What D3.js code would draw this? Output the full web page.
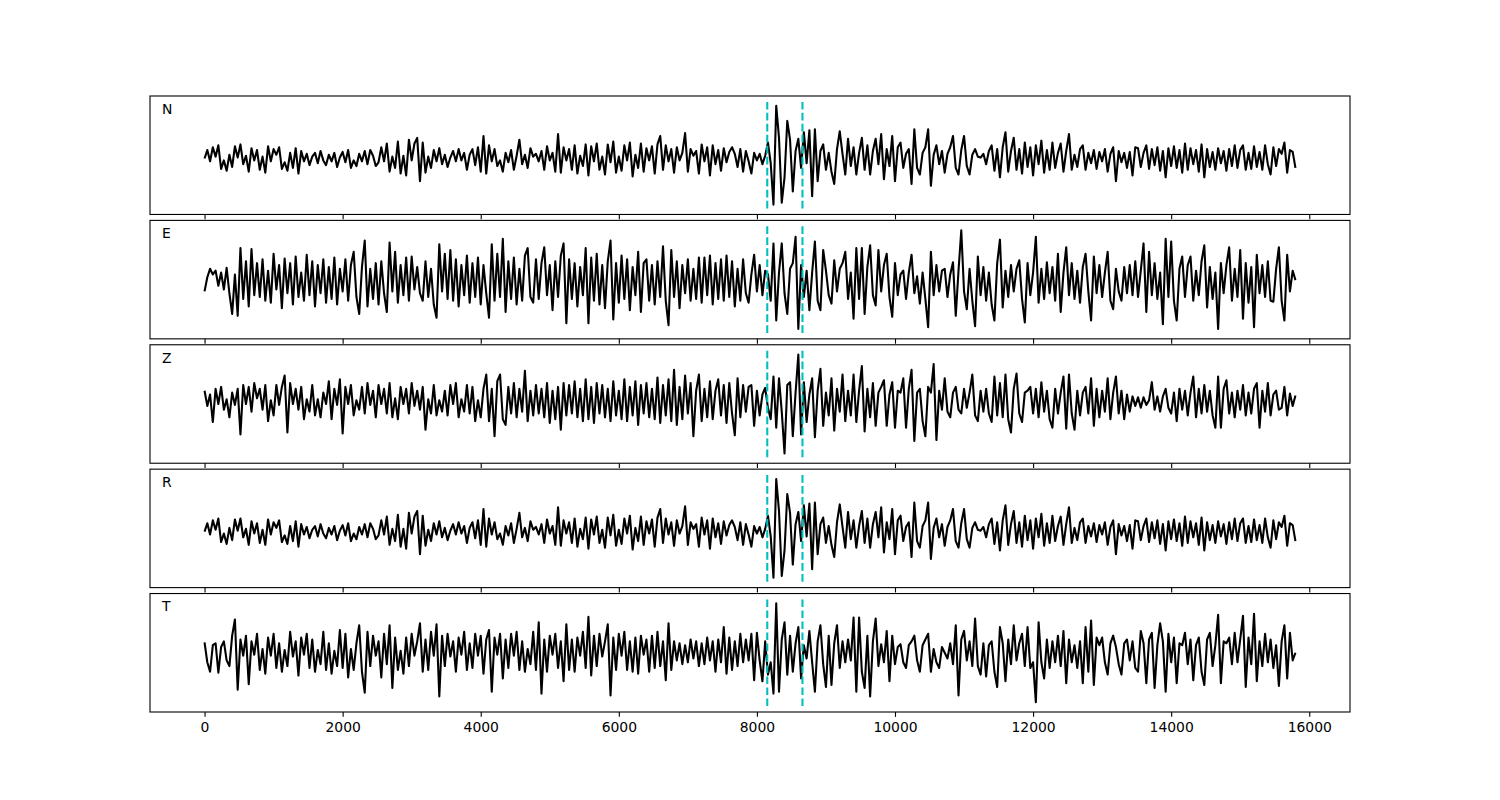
<!DOCTYPE html>
<html>
<head>
<meta charset="utf-8">
<script src="https://cdn.jsdelivr.net/npm/d3@7"></script>
<style>
  body { margin: 0; background: #fff; }
  text { font-family: "DejaVu Sans", sans-serif; }
</style>
</head>
<body>
<div id="chart"></div>
<script>
// sample spacing (x units) between the values below, first value at x = 0
var step = 40;
var channels = ["N", "E", "Z", "R", "T"];
var picks = [8150, 8660];
var xTicks = [0, 2000, 4000, 6000, 8000, 10000, 12000, 14000, 16000];

var nValues = [
  0, 9, -3, 12, 2, 14, -11, -2, -13, 4,
  -9, 13, 1, 15, -6, 3, -14, 11, -2, 9,
  -12, 2, -15, 13, -3, 10, 4, 12, -11, -4,
  -13, 6, -10, 11, -16, 8, -3, 5, -7, 2,
  6, -5, 8, -2, -7, 4, -3, 6, -9, 1,
  7, -4, 9, -10, -2, -8, 5, -3, 8, -6,
  9, 3, -8, -4, 12, -3, 16, -14, 2, -10,
  18, -16, 3, -18, 20, -2, 16, 22, -24, 17,
  -15, 2, -10, 9, -3, 11, -6, 4, -9, 1,
  8, -3, 10, -2, 6, -12, 4, 10, -7, 12,
  -14, 24, -16, 14, -3, 10, -8, -2, -14, 6,
  -4, 9, -12, 3, 20, -6, 4, -10, 11, 2,
  5, -3, 8, -12, 13, -2, 6, -14, 26, -15,
  12, -2, 10, -12, 14, -16, 3, -8, 15, -18,
  13, -3, 16, -12, 2, -17, 15, -4, 18, -15,
  2, -13, 14, -2, 17, -19, 4, -10, 16, -14,
  11, -2, 13, -16, 15, 24, -12, 14, -3, 10,
  -15, 12, -2, 6, 27, -14, 10, 3, 8, -16,
  15, -3, 12, -18, 14, -6, 9, -13, 11, -4,
  7, 12, 5, -9, 10, -14, 8, -3, -16, 6,
  -2, 5, -6, 3, 17, -5, -49, 56, 22, -47,
  -20, 40, 20, -35, 8, 21, -10, 28, -5, 30,
  -40, 31, -24, 8, 15, -12, 6, -14, -27, 10,
  29, 5, -17, 21, -8, 12, -17, 6, 22, -12,
  14, -17, 8, 21, -6, 26, -22, 10, -8, 24,
  -24, 12, 17, -10, 5, 10, -27, 31, -10, -17,
  6, 12, 31, -29, 4, 14, -6, 8, -15, 5,
  12, 24, -10, -17, 9, 24, -8, -17, 4, 10,
  2, 1, 5, -6, 8, 14, -13, 10, -20, 12,
  28, -14, 8, 22, -12, 10, -16, 17, -9, 12,
  -18, 14, -6, 19, -15, 9, -12, 17, -10, 6,
  16, -14, 8, 26, -12, 4, -9, 10, 14, -12,
  6, -5, 9, -11, 7, -3, 10, -14, 5, 12,
  -24, 8, -4, 6, -10, 7, -18, 12, 11, -9,
  6, 14, -11, 10, -7, 12, -13, 8, -20, 11,
  -8, 13, -10, 9, -15, 16, -12, 11, -6, 9,
  -14, 15, -20, 10, -9, 7, -12, 11, -5, 8,
  -13, 10, -8, 14, -10, 9, 14, -12, 6, -11,
  13, -9, 7, -12, 14, -6, -17, 12, -8, 10,
  5, 17, -15, 9, 7, -10
];

var eValues = [
  -10, 5, 14, 8, 12, -4, 10, -8, 15, -12,
  -34, 8, -36, 36, -18, 22, -26, 35, -14, 20,
  -16, 24, -20, 12, -22, 30, -8, 18, -28, 25,
  -12, 20, -24, 27, -16, 10, -20, 29, -14, 22,
  -26, 18, -12, 24, -22, 16, -18, 26, -24, 14,
  -10, 24, -20, 18, 32, -16, -34, 16, 44, -26,
  14, -18, 20, -24, 22, -12, -32, 42, -10, 32,
  -22, 18, -14, 26, -20, 27, -8, 16, -12, -20,
  22, -16, 14, -24, -38, 40, -10, 30, -18, 34,
  -20, 24, -26, 18, -14, 28, -22, 20, -16, 26,
  -24, 18, -12, -38, 40, -20, 30, -16, 46, -32,
  22, -18, 26, -24, 14, -20, 28, 36, -16, -22,
  24, -18, 20, 37, -14, 18, -30, 22, -16, 28,
  41, -44, 24, -18, 20, -26, 16, -14, 36, -44,
  26, -20, 30, -24, 18, -28, 22, 44, -40, 20,
  -22, 28, -18, 24, -30, 16, -14, 32, -32, 20,
  24, -20, 18, -24, 22, -16, 38, -20, -46, 34,
  -16, 22, -28, 18, -12, 24, -20, 14, -18, 26,
  -22, 26, -14, 28, -24, 20, -18, 24, -20, 28,
  -16, 22, -26, 14, -20, 24, -12, -22, 8, 29,
  -10, 18, -14, 12, 8, -20, 41, -41, 10, 41,
  -12, -34, 14, 20, 48, -50, 18, -16, 12, -30,
  10, 43, -20, -30, 34, 12, -14, -23, 23, -10,
  14, 20, 32, -18, 10, -39, 36, -18, 36, -34,
  16, 39, -14, -25, 34, -10, 18, 30, -16, -37,
  20, -14, 8, 12, -18, 10, 29, -12, 6, -23,
  10, -18, -48, 32, -14, 18, -10, 12, 14, -16,
  8, 21, -36, 12, 55, -10, -29, 14, -20, -47,
  27, -14, 16, -20, 10, -24, -41, 20, 45, -27,
  12, -16, 18, -10, 14, 23, -18, -43, 20, -14,
  10, 48, -22, 14, -18, 21, -12, 16, -20, 30,
  -32, 10, 37, -14, 20, -18, 12, -22, 16, 30,
  -10, -41, 27, -12, 18, -16, 10, 32, -20, -29,
  14, -10, -20, 16, -12, 18, -14, 22, -16, 12,
  41, -32, 32, -14, 20, -18, 10, -45, 46, -16,
  43, -20, -41, 14, 27, -16, 18, 27, -20, 12,
  -14, 22, 39, -27, 16, -18, 10, -50, 20, -12,
  18, 37, -20, 14, -16, 34, -39, 20, -22, 16,
  -48, 29, -12, 18, -16, 22, -20, -21, 14, 37,
  -20, -41, 29, -10, 12, 2
];

var zValues = [
  12, -4, 8, -21, 14, -2, 16, -8, 3, -16,
  10, -3, 14, -34, 18, -2, 16, -10, 20, 4,
  14, -8, 18, -20, 2, -14, 18, -3, 16, 28,
  -32, 20, -2, 14, -8, 16, -18, 3, -10, 18,
  -14, 3, -16, 10, -2, 22, -18, 14, -3, 24,
  -33, 16, -2, 18, -14, 2, -8, 16, -12, 20,
  -3, 12, -16, 18, -2, 14, -12, 20, -16, 4,
  -18, 16, -2, 14, -12, 20, -4, 12, -8, 16,
  -29, 3, -12, 18, -14, 2, -10, 12, -14, 18,
  -2, 20, -16, 3, -10, 18, -12, 16, -20, 2,
  -16, 14, 29, -20, 14, -36, 22, 29, -18, -24,
  16, -12, 20, -16, 14, -10, 33, -20, 12, -14,
  18, -12, 14, -16, 20, -22, 12, -18, 16, -29,
  20, -14, 18, -12, 22, -16, 14, -20, 24, -18,
  16, -22, 20, -12, 18, -16, 14, -20, 22, -14,
  12, -18, 24, -20, 16, -14, 22, -24, 18, -12,
  20, -16, 14, -18, 26, -22, 18, -14, 24, -20,
  34, -24, 16, -18, 28, -12, 20, -36, 12, 29,
  -20, 14, -16, 22, -18, 12, 24, -14, 18, -22,
  20, -12, -35, 25, -16, 18, -10, 16, 18, -25,
  12, -14, 8, 15, -6, -18, 27, -27, 25, -10,
  -54, 18, 21, -36, 10, 50, -34, 21, -21, 8,
  25, -37, 12, 35, -25, 10, -14, 25, -30, 14,
  -10, 29, -20, 12, -14, 29, -21, 12, 38, -31,
  14, -16, 20, -25, 10, 16, 23, -25, 8, 21,
  -27, 12, 10, 25, -27, 14, 34, -41, 10, 14,
  -20, -36, 16, 10, 40, -40, 12, -8, 25, -10,
  -16, 10, 16, -8, -12, 14, -6, 10, 29, -14,
  -20, 12, -10, 14, -12, -21, 27, -14, 20, -16,
  29, -18, -32, 14, 30, -12, -21, 10, 12, 16,
  -12, 14, -16, 21, -10, 12, -18, -27, 14, -12,
  10, 27, -28, 29, -12, -29, 12, -14, 10, 16,
  -12, 25, -25, 14, -16, 12, -10, 25, -18, 10,
  27, -12, 12, -18, 8, -10, 6, -4, 5, -6,
  5, -3, 2, 21, -8, 6, -10, 6, 14, -6,
  -12, 10, -20, 14, -8, 12, -14, 10, 27, -16,
  14, -12, 18, -10, 12, -14, -27, 27, -27, 14,
  23, -12, 10, -16, 12, -8, 18, -14, 10, -12,
  14, 20, -27, 12, -10, 20, -14, 8, 12, -8,
  -6, 16, -14, 9, -4, 7
];

var rValues = [
  0, 9, -3, 12, 2, 14, -11, -2, -13, 4,
  -9, 13, 1, 14, -6, 3, -14, 11, -2, 9,
  -12, 2, -14, 13, -3, 10, 4, 12, -11, -4,
  -13, 6, -10, 11, -16, 8, -3, 5, -7, 2,
  6, -5, 8, -2, -7, 4, -3, 6, -9, 1,
  7, -4, 9, -10, -2, -8, 5, -3, 8, -6,
  9, 3, -8, -4, 12, -3, 16, -14, 3, -10,
  18, -16, 3, -18, 20, -2, 16, 22, -24, 17,
  -15, 2, -10, 9, -3, 11, -6, 4, -9, 1,
  8, -3, 10, -2, 6, -12, 4, 10, -7, 12,
  -14, 24, -16, 14, -3, 10, -8, -2, -14, 6,
  -4, 9, -12, 3, 20, -6, 4, -10, 11, 2,
  5, -3, 8, -12, 13, -2, 6, -14, 26, -15,
  12, -2, 10, -12, 14, -16, 3, -8, 15, -18,
  13, -3, 16, -12, 2, -17, 15, -4, 18, -15,
  2, -13, 14, -2, 17, -19, 4, -10, 16, -14,
  11, -2, 13, -16, 15, 24, -12, 14, -3, 10,
  -15, 12, -2, 6, 27, -14, 10, 3, 8, -16,
  15, -3, 12, -18, 14, -6, 9, -13, 11, -4,
  7, 12, 5, -9, 10, -14, 8, -3, -16, 6,
  -2, 5, -6, 3, 17, -5, -49, 56, 22, -47,
  -20, 40, 20, -35, 8, 21, -10, 28, -5, 30,
  -40, 31, -24, 8, 15, -12, 6, -14, -27, 10,
  29, 5, -17, 21, -8, 12, -17, 6, 22, -12,
  14, -17, 8, 21, -6, 26, -22, 10, -8, 24,
  -24, 12, 17, -10, 5, 10, -27, 31, -10, -17,
  6, 12, 31, -29, 4, 14, -6, 8, -15, 5,
  12, 24, -10, -17, 9, 24, -8, -17, 4, 10,
  2, 1, 5, -6, 8, 14, -13, 10, -20, 12,
  28, -14, 8, 22, -12, 10, -16, 17, -9, 12,
  -18, 14, -6, 19, -15, 9, -12, 17, -10, 6,
  16, -14, 8, 26, -12, 4, -9, 10, 14, -12,
  6, -5, 9, -11, 7, -3, 10, -14, 5, 12,
  -24, 8, -4, 6, -10, 7, -18, 12, 11, -9,
  6, 14, -11, 10, -7, 12, -13, 8, -20, 11,
  -8, 13, -10, 9, -15, 16, -12, 11, -6, 9,
  -14, 15, -20, 10, -9, 7, -12, 11, -5, 8,
  -13, 10, -8, 14, -10, 9, 14, -12, 6, -11,
  13, -9, 7, -12, 14, -6, -17, 12, -8, 10,
  5, 17, -15, 9, 7, -10
];

var tValues = [
  11, -10, -20, 8, 10, -21, 6, 12, -8, -14,
  18, 35, -39, 14, -3, 18, -33, 12, -2, 20,
  -18, 4, -22, 16, -3, 20, -16, 10, -20, 3,
  -14, 22, -4, 12, -24, 16, -2, 20, -16, 14,
  -20, 3, -12, 22, -18, 10, -22, 2, -14, 24,
  -16, 20, -26, 4, -18, 10, 29, -20, -42, 22,
  -14, 18, -3, 12, -26, 20, -12, 29, -37, 16,
  -18, 2, -22, 16, -14, 20, -3, 12, 31, -20,
  14, -18, 22, -3, 30, -46, 18, -14, 20, -4,
  12, -20, 16, -2, 22, -18, 10, -16, 20, -3,
  18, -22, 14, 24, -41, 16, -2, 20, -27, 14,
  -16, 20, -3, 22, -18, 12, -20, 4, -12, 22,
  -18, 32, -43, 14, -20, 18, -2, 20, -16, 12,
  -30, 30, -18, 14, -20, 16, -3, 22, -16, 38,
  -24, 18, -14, 20, -4, 12, 30, -45, 16, -18,
  20, -3, 22, -18, 12, -20, 16, -22, 18, -2,
  14, -20, 18, -16, 22, -14, 12, -29, 31, -18,
  12, -8, 10, -12, 8, -10, 14, -6, 12, -14,
  10, -12, 16, -8, 12, -20, 14, -10, 27, -22,
  16, -18, 12, -14, 20, -10, 14, -8, 20, -29,
  21, -8, -30, 12, -23, -10, -43, 52, -41, 14,
  32, -23, 18, -20, 10, 27, -27, 8, -6, 23,
  -10, -41, 12, 29, -12, -36, 18, -34, 10, 29,
  -16, 12, -10, 14, -8, 37, -41, 37, -20, -37,
  18, -46, 12, 36, -14, 9, -10, 23, -30, 18,
  -12, 6, 9, -10, -16, 8, 12, 18, -8, -20,
  8, 14, 20, -20, 4, -10, -16, 6, 0, -6,
  10, -12, 29, -45, 14, 23, -8, 12, -14, 36,
  -14, -23, 10, -25, 8, 12, -20, -36, 27, 10,
  -30, 14, -12, 29, -8, 10, 20, -14, 27, -16,
  -10, -52, 32, -10, -27, 14, -16, 12, -10, 18,
  -14, 23, -32, 14, -10, 8, -16, 12, -32, 27,
  -20, 34, -34, 16, 8, 16, -10, -23, 10, 18,
  6, -12, -23, 10, 14, -8, 12, -16, -20, 23,
  10, -32, 14, 21, -37, 8, 31, 12, -41, 20,
  -10, 16, -32, 10, 8, 21, -12, 14, -29, 8,
  16, -20, -34, 14, 21, -14, 8, 40, -32, 12,
  10, 16, -12, 21, -10, 14, 39, -36, 16, -12,
  41, -30, 12, -14, 20, -10, 14, -16, 8, -35,
  12, 29, -27, 21, -8, 0
];

var traces = [nValues, eValues, zValues, rValues, tValues];

var svgWidth = 1500;
var svgHeight = 800;
var margin = { top: 96, right: 150, bottom: 88, left: 150 };
var width = svgWidth - margin.left - margin.right;
var height = svgHeight - margin.top - margin.bottom;

// five stacked panels, gap = 5% of a panel height
var hspace = 0.05;
var panelH = height / (traces.length + (traces.length - 1) * hspace);
var gap = panelH * hspace;

var svg = d3.select("#chart")
  .append("svg")
  .attr("width", svgWidth)
  .attr("height", svgHeight);

var nMax = d3.max(traces, function(t) { return (t.length - 1) * step; });
var xPad = nMax * 0.05;
var xScale = d3.scaleLinear()
  .domain([-xPad, nMax + xPad])
  .range([0, width]);

var line = d3.line()
  .x(function(d, i) { return xScale(i * step); });

traces.forEach(function(values, k) {
  var top = margin.top + k * (panelH + gap);
  var g = svg.append("g")
    .attr("transform", "translate(" + margin.left + "," + top + ")");

  var ext = d3.extent(values);
  var yPad = (ext[1] - ext[0]) * 0.1;
  var yScale = d3.scaleLinear()
    .domain([ext[0] - yPad, ext[1] + yPad])
    .range([panelH, 0]);

  g.append("path")
    .datum(values)
    .attr("fill", "none")
    .attr("stroke", "#000")
    .attr("stroke-width", 2.08)
    .attr("stroke-linejoin", "round")
    .attr("d", line.y(function(d) { return yScale(d); }));

  // pick markers, drawn bottom-up like an axvline (ymin 0.05, ymax 0.95)
  picks.forEach(function(p) {
    g.append("path")
      .attr("d", "M" + xScale(p) + "," + (panelH * 0.95) + "V" + (panelH * 0.05))
      .attr("stroke", "#00bfbf")
      .attr("stroke-width", 2.08)
      .attr("stroke-dasharray", "7.7,3.3")
      .attr("fill", "none");
  });

  var axis = d3.axisBottom(xScale)
    .tickValues(xTicks)
    .tickSize(4.86)
    .tickPadding(4.86)
    .tickFormat(k === traces.length - 1 ? d3.format("d") : "");

  var ax = g.append("g")
    .attr("transform", "translate(0," + panelH + ")")
    .call(axis);
  ax.select(".domain").remove();
  ax.selectAll(".tick line").attr("stroke", "#000").attr("stroke-width", 1.1);
  ax.selectAll(".tick text")
    .attr("fill", "#000")
    .style("font-family", "'DejaVu Sans', sans-serif")
    .style("font-size", "13.9px");

  g.append("rect")
    .attr("width", width)
    .attr("height", panelH)
    .attr("fill", "none")
    .attr("stroke", "#000")
    .attr("stroke-width", 1.1);

  g.append("text")
    .attr("x", width * 0.01)
    .attr("y", panelH * 0.15)
    .style("font-size", "13.9px")
    .attr("fill", "#000")
    .text(channels[k]);
});
</script>
</body>
</html>
